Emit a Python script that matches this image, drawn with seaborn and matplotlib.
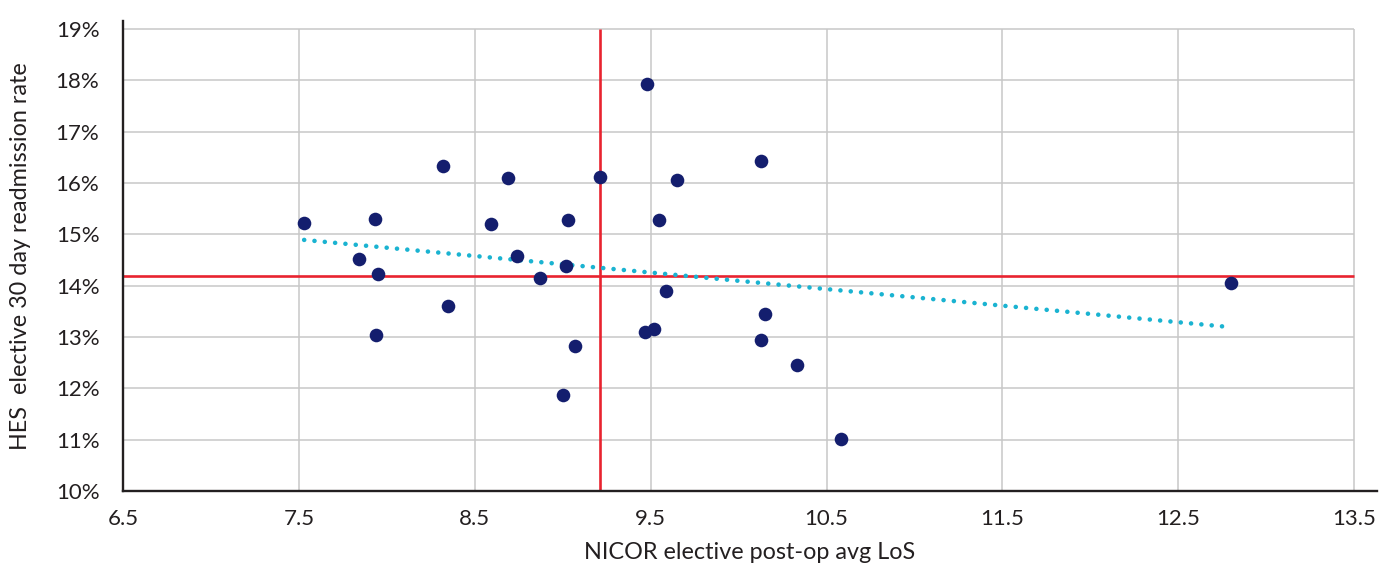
import matplotlib
matplotlib.use('Agg')
from matplotlib import pyplot as plt
from matplotlib.ticker import FuncFormatter
import numpy as np
import pandas as pd
import seaborn as sns

# NICOR elective post-op avg LoS (days) vs HES elective 30 day readmission rate (%)
los = [7.53, 7.84, 7.935, 7.95, 7.94, 8.32, 8.35, 8.69, 8.59, 8.74,
       8.87, 9.03, 9.02, 9.21, 9.07, 9.00, 9.48, 9.55, 9.65, 9.59,
       9.47, 9.52, 10.13, 10.15, 10.13, 10.33, 10.58, 12.80]
readm = [15.22, 14.52, 15.30, 14.22, 13.04, 16.33, 13.60, 16.09, 15.20, 14.57,
         14.15, 15.28, 14.39, 16.12, 12.82, 11.87, 17.93, 15.28, 16.06, 13.89,
         13.09, 13.15, 16.42, 13.44, 12.94, 12.46, 11.01, 14.05]

# trendline end points
trend_x = [7.53, 12.80]
trend_y = [14.89, 13.19]

# red reference lines
ref_los = 9.21
ref_readm = 14.18

xticks = [6.5, 7.5, 8.5, 9.5, 10.5, 11.5, 12.5, 13.5]
yticks = [10, 11, 12, 13, 14, 15, 16, 17, 18, 19]

sns.set_style('white')
plt.rcParams['font.family'] = ['Lato', 'DejaVu Sans']

df = pd.DataFrame({'los': los, 'readm': readm})

fig = plt.figure(figsize=(13.82, 5.63), dpi=100)
ax = fig.add_axes([0.089, 0.128, 0.9074, 0.8352])

# grid drawn only over the tick range
ax.hlines(yticks[1:], xticks[0], xticks[-1], color='#c8c8c8', lw=1.1, zorder=1)
ax.vlines(xticks[1:], yticks[0], yticks[-1], color='#c8c8c8', lw=1.1, zorder=1)

ax.hlines(ref_readm, xticks[0], xticks[-1], color='#e8232f', lw=1.9, zorder=2)
ax.vlines(ref_los, yticks[0], yticks[-1], color='#e8232f', lw=1.9, zorder=2)

sns.lineplot(x=trend_x, y=trend_y, ax=ax, color='#1ab3d1', lw=3.3,
             linestyle=(0, (0.01, 2.25)), dash_capstyle='round', zorder=3)

sns.scatterplot(data=df, x='los', y='readm', ax=ax, color='#141e6e',
                s=96, linewidth=0, zorder=4)

ax.set_xlim(6.5, 13.63)
ax.set_ylim(10, 19.16)
ax.set_xticks(xticks)
ax.set_xticklabels([str(t) for t in xticks])
ax.set_yticks(yticks)
ax.yaxis.set_major_formatter(FuncFormatter(lambda v, p: '%d%%' % v))

ax.tick_params(axis='x', length=4, width=1, color='#c0c0c0', pad=9,
               labelsize=16, labelcolor='#231f20')
ax.tick_params(axis='y', length=0, pad=17, labelsize=16, labelcolor='#231f20')

for s in ['top', 'right']:
    ax.spines[s].set_visible(False)
for s in ['left', 'bottom']:
    ax.spines[s].set_color('#231f20')
    ax.spines[s].set_linewidth(1.7)

ax.set_xlabel('NICOR elective post-op avg LoS', fontsize=16.8, color='#231f20')
ax.set_ylabel('HES  elective 30 day readmission rate', fontsize=16.8, color='#231f20')
ax.xaxis.set_label_coords(0.5, -0.108)
ax.yaxis.set_label_coords(-0.073, 0.5)

plt.savefig('out.png', dpi=100)
